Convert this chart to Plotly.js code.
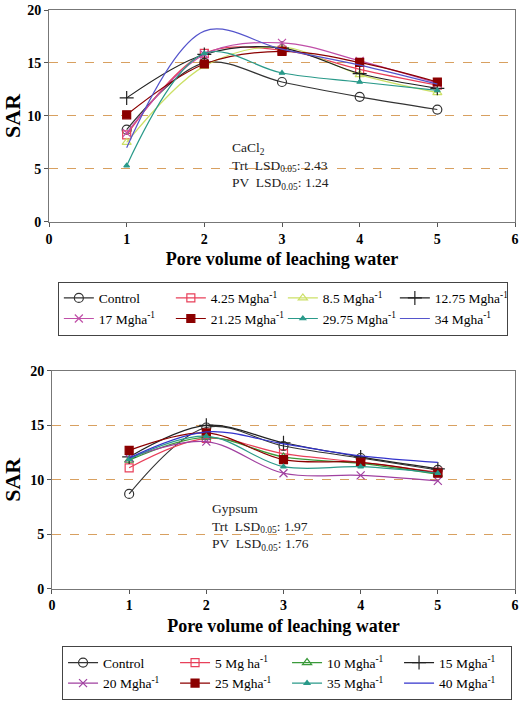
<!DOCTYPE html>
<html><head><meta charset="utf-8">
<script src="https://cdn.plot.ly/plotly-3.0.1.min.js"></script>
<style>body{margin:0;background:#fff}#c{width:520px;height:702px}</style>
</head><body><div id="c"></div>
<script>
const pv = [1, 2, 3, 4, 5];

// CaCl2 panel
const caNames = ['Control','4.25 Mgha<sup>-1</sup>','8.5 Mgha<sup>-1</sup>','12.75 Mgha<sup>-1</sup>','17 Mgha<sup>-1</sup>','21.25 Mgha<sup>-1</sup>','29.75 Mgha<sup>-1</sup>','34 Mgha<sup>-1</sup>'];
const caControl = [8.7, 15.0, 13.2, 11.8, 10.6];
const ca425 = [8.2, 15.9, 16.2, 14.4, 12.9];
const ca85 = [7.5, 14.7, 16.5, 13.9, 12.2];
const ca1275 = [11.7, 15.8, 16.4, 14.0, 12.6];
const ca17 = [8.4, 15.8, 16.9, 15.2, 13.1];
const ca2125 = [10.1, 14.9, 16.1, 15.05, 13.2];
const ca2975 = [5.3, 15.9, 14.05, 13.2, 12.4];
const ca34 = [7.0, 18.0, 16.3, 14.8, 13.0];

// Gypsum panel
const gyNames = ['Control','5 Mg ha<sup>-1</sup>','10 Mgha<sup>-1</sup>','15 Mgha<sup>-1</sup>','20 Mgha<sup>-1</sup>','25 Mgha<sup>-1</sup>','35 Mgha<sup>-1</sup>','40 Mgha<sup>-1</sup>'];
const gyControl = [8.7, 14.8, 13.1, 12.0, 10.9];
const gy5 = [11.1, 13.8, 12.4, 11.6, 10.7];
const gy10 = [11.8, 13.9, 12.1, 11.5, 10.5];
const gy15 = [12.1, 15.0, 13.4, 12.1, 11.0];
const gy20 = [12.0, 13.5, 10.6, 10.4, 9.9];
const gy25 = [12.7, 14.3, 11.85, 11.6, 10.6];
const gy35 = [11.9, 14.0, 11.2, 11.2, 10.6];
const gy40 = [12.0, 14.4, 13.3, 12.2, 11.6];

const styles = [
  {color:'#333333', symbol:'circle-open', size:9},
  {color:'#E8405A', symbol:'square-open', size:8},
  {color:'#CCE066', symbol:'triangle-up-open', size:8},
  {color:'#222222', symbol:'cross-thin-open', size:10},
  {color:'#C04FA8', symbol:'x-thin-open', size:8},
  {color:'#8B0000', symbol:'square', size:8},
  {color:'#2A9A8A', symbol:'triangle-up', size:5},
  {color:'#5555CC', symbol:'circle', size:0}
];
const styles2 = styles.map(s => Object.assign({}, s));
styles2[2].color = '#3A9A3A';
styles2[4].color = '#A040A0';
styles2[7].color = '#3333CC';

function mk(names, series, st, xa, ya, leg) {
  return series.map((y, i) => ({
    x: pv, y: y, name: names[i], type: 'scatter', mode: st[i].size ? 'lines+markers' : 'lines',
    xaxis: xa, yaxis: ya, legend: leg,
    line: {color: st[i].color, width: 1.2, shape: 'spline', smoothing: 1},
    marker: {color: st[i].color, symbol: st[i].symbol, size: st[i].size, line: {color: st[i].color, width: 1.2}}
  }));
}
const data = [].concat(
  mk(caNames, [caControl, ca425, ca85, ca1275, ca17, ca2125, ca2975, ca34], styles, 'x', 'y', 'legend'),
  mk(gyNames, [gyControl, gy5, gy10, gy15, gy20, gy25, gy35, gy40], styles2, 'x2', 'y2', 'legend2')
);

const serif = 'Liberation Serif';
const xa = (dom, anchor) => ({
  domain: dom, anchor: anchor, range: [0, 6], dtick: 1, tick0: 0,
  showgrid: false, zeroline: false, showline: true, mirror: true, linecolor: '#777', linewidth: 1,
  ticks: 'outside', ticklen: 4, tickcolor: '#555',
  tickfont: {family: serif, size: 14, color: '#000', weight: 700},
  title: {text: 'Pore volume of leaching water', font: {family: serif, size: 18, color: '#000', weight: 700}, standoff: 6}
});
const ya = (dom, anchor) => ({
  domain: dom, anchor: anchor, range: [0, 20], dtick: 5, tick0: 0,
  showgrid: true, gridcolor: '#D8A060', griddash: 'dash', gridwidth: 1, zeroline: false,
  showline: true, mirror: true, linecolor: '#777', linewidth: 1,
  ticks: 'outside', ticklen: 4, tickcolor: '#555',
  tickfont: {family: serif, size: 14, color: '#000', weight: 700},
  title: {text: 'SAR', font: {family: serif, size: 22, color: '#000', weight: 700}, standoff: 8}
});
const legBase = {orientation: 'h', bordercolor: '#444', borderwidth: 1, bgcolor: '#fff',
  font: {family: serif, size: 13.5, color: '#000'}, entrywidth: 67, entrywidthmode: 'pixels',
  tracegroupgap: 0, itemwidth: 30, xanchor: 'left', yanchor: 'top', traceorder: 'normal'};

const layout = {
  width: 520, height: 702, margin: {l: 49, r: 5, t: 10, b: 2},
  font: {family: serif, color: '#000'},
  paper_bgcolor: '#fff', plot_bgcolor: '#fff', showlegend: true,
  xaxis: xa([0, 1], 'y'), yaxis: ya([0.6913, 1], 'x'),
  xaxis2: xa([0.0064, 1], 'y2'), yaxis2: ya([0.1565, 0.4739], 'x2'),
  legend: Object.assign({}, legBase, {x: 0.019, y: 0.604}),
  legend2: Object.assign({}, legBase, {x: 0.028, y: 0.0725}),
  annotations: [
    {xref: 'x', yref: 'y', x: 2.33, y: 7.9, xanchor: 'left', yanchor: 'top', align: 'left', showarrow: false,
     text: 'CaCl<sub>2</sub><br>Trt  LSD<sub>0.05</sub>: 2.43<br>PV  LSD<sub>0.05</sub>: 1.24',
     font: {family: serif, size: 13.5, color: '#222'}},
    {xref: 'x2', yref: 'y2', x: 2.05, y: 8.2, xanchor: 'left', yanchor: 'top', align: 'left', showarrow: false,
     text: 'Gypsum<br>Trt  LSD<sub>0.05</sub>: 1.97<br>PV  LSD<sub>0.05</sub>: 1.76',
     font: {family: serif, size: 13.5, color: '#222'}}
  ]
};
Plotly.newPlot('c', data, layout, {displayModeBar: false, staticPlot: true});
</script></body></html>
